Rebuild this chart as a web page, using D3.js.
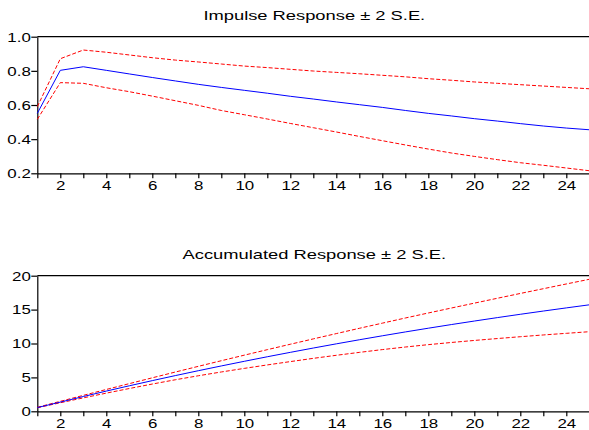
<!DOCTYPE html>
<html>
<head>
<meta charset="utf-8">
<script src="https://cdn.jsdelivr.net/npm/d3@7"></script>
<style>
    body { margin: 0; background: #fff; }
    text { font-family: "Liberation Sans", Arial, sans-serif; fill: #000; }
</style>
</head>
<body>
<div id="chart"></div>
<script>
// horizons 1..25
const periods = [1, 2, 3, 4, 5, 6, 7, 8, 9, 10, 11, 12, 13, 14, 15, 16, 17, 18, 19, 20, 21, 22, 23, 24, 25];

const impulse = [0.551, 0.803, 0.824, 0.803, 0.782, 0.761, 0.741, 0.721, 0.703, 0.686, 0.669, 0.651, 0.635,
    0.618, 0.602, 0.586, 0.568, 0.551, 0.536, 0.520, 0.506, 0.491, 0.477, 0.465, 0.455];
const impulseUpper = [0.590, 0.871, 0.922, 0.909, 0.893, 0.877, 0.863, 0.852, 0.840, 0.828, 0.819, 0.809, 0.799,
    0.791, 0.783, 0.774, 0.765, 0.754, 0.745, 0.735, 0.727, 0.719, 0.711, 0.703, 0.695];
const impulseLower = [0.516, 0.731, 0.727, 0.701, 0.678, 0.652, 0.625, 0.598, 0.568, 0.543, 0.518, 0.492, 0.467,
    0.442, 0.416, 0.391, 0.366, 0.342, 0.319, 0.299, 0.280, 0.262, 0.247, 0.231, 0.215];

const accum = [0.551, 1.354, 2.178, 2.981, 3.763, 4.524, 5.265, 5.986, 6.689, 7.375, 8.044, 8.695, 9.330,
    9.948, 10.550, 11.136, 11.704, 12.255, 12.791, 13.311, 13.817, 14.308, 14.785, 15.250, 15.705];
const accumUpper = [0.59, 1.47, 2.35, 3.22, 4.08, 4.94, 5.79, 6.63, 7.46, 8.28, 9.09, 9.89, 10.68,
    11.46, 12.24, 13.00, 13.76, 14.50, 15.23, 15.95, 16.67, 17.38, 18.08, 18.78, 19.47];
const accumLower = [0.52, 1.26, 1.98, 2.68, 3.36, 4.02, 4.65, 5.24, 5.80, 6.33, 6.84, 7.33, 7.81,
    8.26, 8.69, 9.10, 9.48, 9.83, 10.15, 10.45, 10.73, 11.00, 11.26, 11.50, 11.74];

const impulseTicks = [0.2, 0.4, 0.6, 0.8, 1.0];
const accumTicks = [0, 5, 10, 15, 20];

const WIDTH = 589, HEIGHT = 430;
const LEFT = 37.3, RIGHT = 589.3;
const STRETCH = 1.41; // glyphs in the original are wide

let svg = d3.select("#chart")
    .append("svg")
    .attr("width", WIDTH)
    .attr("height", HEIGHT);

let x = d3.scaleLinear()
    .domain([1, 25])
    .range([LEFT, RIGHT]);

let drawPanel = (title, top, bottom, yDomain, yTicks, yFormat, mid, hi, lo) => {
    let y = d3.scaleLinear()
        .domain(yDomain)
        .range([bottom, top]);

    let g = svg.append("g");

    // top frame line
    g.append("line")
        .attr("x1", LEFT).attr("x2", WIDTH + 2)
        .attr("y1", top).attr("y2", top)
        .attr("stroke", "#000")
        .attr("stroke-width", 1.2);

    let xAxis = g.append("g")
        .attr("transform", `translate(0, ${bottom})`)
        .call(d3.axisBottom(x)
            .tickValues(periods)
            .tickSize(5)
            .tickSizeOuter(0)
            .tickFormat(d => d % 2 === 0 ? d : ""));

    xAxis.selectAll("text")
        .attr("x", 0).attr("y", 0).attr("dy", null)
        .attr("transform", `translate(0, 16.5) scale(${STRETCH}, 1)`)
        .style("text-anchor", "middle")
        .style("font-size", "12px");

    let yAxis = g.append("g")
        .attr("transform", `translate(${LEFT}, 0)`)
        .call(d3.axisLeft(y)
            .tickValues(yTicks)
            .tickSize(6)
            .tickSizeOuter(0)
            .tickFormat(yFormat));

    yAxis.selectAll("text")
        .attr("x", 0).attr("y", 0).attr("dy", null)
        .attr("transform", `translate(-6.5, 4.3) scale(${STRETCH}, 1)`)
        .style("text-anchor", "end")
        .style("font-size", "12px");

    g.selectAll(".domain, .tick line")
        .attr("stroke", "#000")
        .attr("stroke-width", 1.2);

    let line = d3.line()
        .x((d, i) => x(periods[i]))
        .y(d => y(d));

    g.append("path")
        .datum(hi)
        .attr("d", line)
        .attr("fill", "none")
        .attr("stroke", "#ff0000")
        .attr("stroke-width", 1)
        .attr("stroke-dasharray", "4,2");

    g.append("path")
        .datum(lo)
        .attr("d", line)
        .attr("fill", "none")
        .attr("stroke", "#ff0000")
        .attr("stroke-width", 1)
        .attr("stroke-dasharray", "4,2");

    g.append("path")
        .datum(mid)
        .attr("d", line)
        .attr("fill", "none")
        .attr("stroke", "#0000ff")
        .attr("stroke-width", 1);

    g.append("text")
        .attr("transform", `translate(${(LEFT + RIGHT) / 2 + 1}, ${top - 16.4}) scale(${STRETCH}, 1)`)
        .style("text-anchor", "middle")
        .style("font-size", "13px")
        .text(title);
};

drawPanel("Impulse Response \u00b1 2 S.E.", 36.7, 173.3, [0.2, 1.0], impulseTicks, d3.format(".1f"),
    impulse, impulseUpper, impulseLower);

drawPanel("Accumulated Response \u00b1 2 S.E.", 275.7, 411.3, [0, 20], accumTicks, d3.format("d"),
    accum, accumUpper, accumLower);
</script>
</body>
</html>
